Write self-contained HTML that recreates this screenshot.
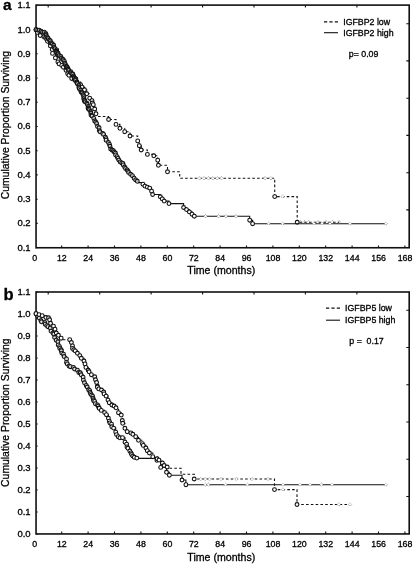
<!DOCTYPE html>
<html><head><meta charset="utf-8"><title>Kaplan-Meier</title>
<style>
html,body{margin:0;padding:0;background:#fff;}
body{width:413px;height:565px;overflow:hidden;}
svg{display:block;opacity:0.999;will-change:transform;}
svg text{font-family:"Liberation Sans",sans-serif;fill:#000;stroke:#000;stroke-width:0.3px;}
</style></head><body>
<svg width="413" height="565" viewBox="0 0 413 565">
<rect width="413" height="565" fill="#fff"/>
<rect x="36.05" y="5.10" width="373.15" height="242.65" fill="none" stroke="#111" stroke-width="1.6"/><path d="M36.0,5.2 h1.7 M36.0,29.4 h1.7 M36.0,53.7 h1.7 M36.0,78.0 h1.7 M36.0,102.2 h1.7 M36.0,126.5 h1.7 M36.0,150.7 h1.7 M36.0,174.9 h1.7 M36.0,199.2 h1.7 M36.0,223.4 h1.7 M36.0,247.7 h1.7 M61.7,247.8 v-2.4 M88.1,247.8 v-2.4 M114.5,247.8 v-2.4 M140.9,247.8 v-2.4 M167.3,247.8 v-2.4 M193.7,247.8 v-2.4 M220.1,247.8 v-2.4 M246.5,247.8 v-2.4 M272.9,247.8 v-2.4 M299.3,247.8 v-2.4 M325.7,247.8 v-2.4 M352.1,247.8 v-2.4 M378.5,247.8 v-2.4 M404.9,247.8 v-2.4 M48.2,5.1 v2.5 M99.7,5.1 v2.5 M151.1,5.1 v2.5 M202.6,5.1 v2.5 M254.0,5.1 v2.5 M305.4,5.1 v2.5 M356.9,5.1 v2.5 M409.2,209.9 h-2.9 M409.2,172.7 h-2.9 M409.2,135.4 h-2.9 M409.2,98.2 h-2.9 M409.2,60.9 h-2.9 M409.2,23.7 h-2.9 " stroke="#111" stroke-width="1.1" fill="none"/><text x="30.6" y="8.2" text-anchor="end" font-size="9.5">1.1</text><text x="30.6" y="32.5" text-anchor="end" font-size="9.5">1.0</text><text x="30.6" y="56.7" text-anchor="end" font-size="9.5">0.9</text><text x="30.6" y="81.0" text-anchor="end" font-size="9.5">0.8</text><text x="30.6" y="105.2" text-anchor="end" font-size="9.5">0.7</text><text x="30.6" y="129.4" text-anchor="end" font-size="9.5">0.6</text><text x="30.6" y="153.7" text-anchor="end" font-size="9.5">0.5</text><text x="30.6" y="177.9" text-anchor="end" font-size="9.5">0.4</text><text x="30.6" y="202.2" text-anchor="end" font-size="9.5">0.3</text><text x="30.6" y="226.4" text-anchor="end" font-size="9.5">0.2</text><text x="30.6" y="250.7" text-anchor="end" font-size="9.5">0.1</text><text x="34.8" y="260.9" text-anchor="middle" font-size="8.8">0</text><text x="61.8" y="260.9" text-anchor="middle" font-size="8.8">12</text><text x="88.2" y="260.9" text-anchor="middle" font-size="8.8">24</text><text x="114.6" y="260.9" text-anchor="middle" font-size="8.8">36</text><text x="141.0" y="260.9" text-anchor="middle" font-size="8.8">48</text><text x="167.4" y="260.9" text-anchor="middle" font-size="8.8">60</text><text x="193.8" y="260.9" text-anchor="middle" font-size="8.8">72</text><text x="220.2" y="260.9" text-anchor="middle" font-size="8.8">84</text><text x="246.6" y="260.9" text-anchor="middle" font-size="8.8">96</text><text x="273.0" y="260.9" text-anchor="middle" font-size="8.8">108</text><text x="299.4" y="260.9" text-anchor="middle" font-size="8.8">120</text><text x="325.8" y="260.9" text-anchor="middle" font-size="8.8">132</text><text x="352.2" y="260.9" text-anchor="middle" font-size="8.8">144</text><text x="378.6" y="260.9" text-anchor="middle" font-size="8.8">156</text><text x="405.0" y="260.9" text-anchor="middle" font-size="8.8">168</text><text x="221.3" y="273.9" text-anchor="middle" font-size="10.6">Time (months)</text><text transform="translate(8.8,125.1) rotate(-90)" text-anchor="middle" font-size="10.4">Cumulative Proportion Surviving</text>
<rect x="36.05" y="292.00" width="373.15" height="241.95" fill="none" stroke="#111" stroke-width="1.6"/><path d="M36.0,292.0 h1.7 M36.0,314.0 h1.7 M36.0,336.0 h1.7 M36.0,358.0 h1.7 M36.0,380.0 h1.7 M36.0,402.0 h1.7 M36.0,424.0 h1.7 M36.0,446.0 h1.7 M36.0,468.0 h1.7 M36.0,490.0 h1.7 M36.0,512.0 h1.7 M36.0,534.0 h1.7 M61.7,534.0 v-2.4 M88.1,534.0 v-2.4 M114.5,534.0 v-2.4 M140.9,534.0 v-2.4 M167.3,534.0 v-2.4 M193.7,534.0 v-2.4 M220.1,534.0 v-2.4 M246.5,534.0 v-2.4 M272.9,534.0 v-2.4 M299.3,534.0 v-2.4 M325.7,534.0 v-2.4 M352.1,534.0 v-2.4 M378.5,534.0 v-2.4 M404.9,534.0 v-2.4 M48.2,292.0 v2.5 M99.7,292.0 v2.5 M151.1,292.0 v2.5 M202.6,292.0 v2.5 M254.0,292.0 v2.5 M305.4,292.0 v2.5 M356.9,292.0 v2.5 M409.2,496.5 h-2.9 M409.2,459.2 h-2.9 M409.2,422.0 h-2.9 M409.2,384.7 h-2.9 M409.2,347.5 h-2.9 M409.2,310.2 h-2.9 " stroke="#111" stroke-width="1.1" fill="none"/><text x="30.6" y="295.0" text-anchor="end" font-size="9.5">1.1</text><text x="30.6" y="317.0" text-anchor="end" font-size="9.5">1.0</text><text x="30.6" y="339.0" text-anchor="end" font-size="9.5">0.9</text><text x="30.6" y="361.0" text-anchor="end" font-size="9.5">0.8</text><text x="30.6" y="383.0" text-anchor="end" font-size="9.5">0.7</text><text x="30.6" y="405.0" text-anchor="end" font-size="9.5">0.6</text><text x="30.6" y="427.0" text-anchor="end" font-size="9.5">0.5</text><text x="30.6" y="449.0" text-anchor="end" font-size="9.5">0.4</text><text x="30.6" y="471.0" text-anchor="end" font-size="9.5">0.3</text><text x="30.6" y="493.0" text-anchor="end" font-size="9.5">0.2</text><text x="30.6" y="515.0" text-anchor="end" font-size="9.5">0.1</text><text x="30.6" y="537.0" text-anchor="end" font-size="9.5">0.0</text><text x="34.8" y="547.2" text-anchor="middle" font-size="8.8">0</text><text x="61.8" y="547.2" text-anchor="middle" font-size="8.8">12</text><text x="88.2" y="547.2" text-anchor="middle" font-size="8.8">24</text><text x="114.6" y="547.2" text-anchor="middle" font-size="8.8">36</text><text x="141.0" y="547.2" text-anchor="middle" font-size="8.8">48</text><text x="167.4" y="547.2" text-anchor="middle" font-size="8.8">60</text><text x="193.8" y="547.2" text-anchor="middle" font-size="8.8">72</text><text x="220.2" y="547.2" text-anchor="middle" font-size="8.8">84</text><text x="246.6" y="547.2" text-anchor="middle" font-size="8.8">96</text><text x="273.0" y="547.2" text-anchor="middle" font-size="8.8">108</text><text x="299.4" y="547.2" text-anchor="middle" font-size="8.8">120</text><text x="325.8" y="547.2" text-anchor="middle" font-size="8.8">132</text><text x="352.2" y="547.2" text-anchor="middle" font-size="8.8">144</text><text x="378.6" y="547.2" text-anchor="middle" font-size="8.8">156</text><text x="405.0" y="547.2" text-anchor="middle" font-size="8.8">168</text><text x="221.3" y="561.1" text-anchor="middle" font-size="10.6">Time (months)</text><text transform="translate(8.8,412.7) rotate(-90)" text-anchor="middle" font-size="10.4">Cumulative Proportion Surviving</text>
<path d="M36.0,29.7 H37.4 V32.4 H40.2 V35.5 H43.9 V36.8 H45.5 V37.7 H46.6 V39.3 H47.5 V41.3 H50.2 V43.4 H50.4 V45.9 H52.2 V49.6 H52.5 V53.4 H55.4 V57.9 H57.9 V61.9 H59.1 V63.9 H61.7 V65.4 H63.4 V67.2 H66.0 V70.3 H67.7 V73.7 H68.9 V75.3 H71.7 V78.5 H74.4 V79.6 H76.9 V82.0 H80.6 V84.8 H82.0 V87.1 H84.5 V89.8 H86.7 V93.8 H89.7 V98.2 H92.0 V100.6 H92.4 V103.0 H93.3 V104.7 H94.7 V109.0 H96.0 V113.8 H97.0 V116.5 H102.6 V116.5 H108.6 V119.5 H116.0 V124.4 H119.9 V128.3 H124.7 V131.7 H130.0 V136.0 H137.7 V140.9 H139.3 V145.7 H141.2 V150.0 H147.4 V154.4 H153.8 V155.8 H157.7 V160.2 H158.4 V165.3 H167.5 V171.8 H179.7 V178.2 H274.7 V196.6 H297.2 V222.3 H339.3 V222.3" fill="none" stroke="#111" stroke-width="1.1" stroke-dasharray="2.6 2.2"/><g fill="#fff" stroke="#111" stroke-width="1.1"><circle cx="36.0" cy="29.7" r="1.9"/><circle cx="37.4" cy="32.4" r="1.9"/><circle cx="40.2" cy="35.5" r="1.9"/><circle cx="43.9" cy="36.8" r="1.9"/><circle cx="45.5" cy="37.7" r="1.9"/><circle cx="46.6" cy="39.3" r="1.9"/><circle cx="47.5" cy="41.3" r="1.9"/><circle cx="50.2" cy="43.4" r="1.9"/><circle cx="50.4" cy="45.9" r="1.9"/><circle cx="52.2" cy="49.6" r="1.9"/><circle cx="52.5" cy="53.4" r="1.9"/><circle cx="55.4" cy="57.9" r="1.9"/><circle cx="57.9" cy="61.9" r="1.9"/><circle cx="59.1" cy="63.9" r="1.9"/><circle cx="61.7" cy="65.4" r="1.9"/><circle cx="63.4" cy="67.2" r="1.9"/><circle cx="66.0" cy="70.3" r="1.9"/><circle cx="67.7" cy="73.7" r="1.9"/><circle cx="68.9" cy="75.3" r="1.9"/><circle cx="71.7" cy="78.5" r="1.9"/><circle cx="74.4" cy="79.6" r="1.9"/><circle cx="76.9" cy="82.0" r="1.9"/><circle cx="80.6" cy="84.8" r="1.9"/><circle cx="82.0" cy="87.1" r="1.9"/><circle cx="84.5" cy="89.8" r="1.9"/><circle cx="86.7" cy="93.8" r="1.9"/><circle cx="89.7" cy="98.2" r="1.9"/><circle cx="92.0" cy="100.6" r="1.9"/><circle cx="92.4" cy="103.0" r="1.9"/><circle cx="93.3" cy="104.7" r="1.9"/><circle cx="94.7" cy="109.0" r="1.9"/><circle cx="96.0" cy="113.8" r="1.9"/></g><g fill="#fff" stroke="#111" stroke-width="1.1"><circle cx="108.6" cy="119.5" r="1.9"/><circle cx="116.0" cy="124.4" r="1.9"/><circle cx="119.9" cy="128.3" r="1.9"/><circle cx="124.7" cy="131.7" r="1.9"/><circle cx="130.0" cy="136.0" r="1.9"/><circle cx="137.7" cy="140.9" r="1.9"/><circle cx="139.3" cy="145.7" r="1.9"/><circle cx="141.2" cy="150.0" r="1.9"/><circle cx="147.4" cy="154.4" r="1.9"/><circle cx="153.8" cy="155.8" r="1.9"/><circle cx="157.7" cy="160.2" r="1.9"/><circle cx="158.4" cy="165.3" r="1.9"/><circle cx="167.5" cy="171.8" r="1.9"/></g><g fill="#fff" stroke="#111" stroke-width="1.1"><circle cx="274.7" cy="196.6" r="1.9"/><circle cx="297.2" cy="222.3" r="1.9"/></g>
<path d="M36.0,29.7 H37.6 V30.1 H39.1 V30.2 H41.0 V31.2 H42.6 V32.1 H44.3 V32.2 H45.9 V33.8 H46.1 V35.1 H46.8 V36.8 H47.8 V37.9 H48.3 V38.7 H49.5 V40.2 H50.4 V40.9 H51.0 V42.9 H52.3 V43.8 H53.7 V45.3 H54.1 V47.5 H54.9 V48.6 H56.7 V49.9 H56.3 V51.3 H56.9 V52.3 H58.1 V53.3 H58.0 V54.7 H59.2 V55.6 H60.8 V56.4 H61.4 V58.2 H62.6 V59.4 H63.3 V59.8 H64.4 V61.4 H65.0 V63.4 H65.4 V64.7 H66.2 V66.2 H66.8 V66.8 H67.5 V67.6 H67.5 V68.6 H68.2 V69.3 H68.8 V70.4 H70.7 V71.7 H70.8 V72.8 H71.7 V73.7 H72.8 V74.0 H73.7 V76.2 H74.1 V77.5 H74.8 V78.2 H75.9 V79.0 H75.2 V80.4 H76.7 V82.1 H77.1 V83.0 H77.4 V83.7 H78.8 V85.5 H78.9 V87.5 H79.3 V88.7 H80.6 V90.2 H81.1 V92.1 H82.1 V92.8 H83.0 V94.8 H83.8 V96.7 H83.7 V98.7 H84.5 V100.0 H84.4 V100.9 H85.2 V101.9 H86.8 V103.1 H87.4 V104.4 H88.4 V106.4 H88.0 V108.0 H88.5 V109.0 H89.4 V109.7 H90.6 V111.5 H90.9 V113.0 H91.0 V115.1 H92.0 V116.0 H92.0 V116.0 H93.8 V118.4 H94.7 V120.9 H95.7 V122.0 H96.6 V123.5 H97.5 V126.5 H99.1 V127.8 H99.3 V130.6 H100.0 V131.8 H102.7 V133.4 H103.6 V134.4 H105.3 V137.1 H106.1 V138.7 H106.1 V140.2 H108.4 V142.5 H109.5 V144.4 H110.0 V146.3 H110.7 V149.0 H112.0 V150.0 H113.4 V150.8 H114.2 V152.1 H115.4 V153.0 H115.6 V154.9 H117.1 V156.7 H118.0 V158.4 H118.9 V160.1 H120.2 V161.9 H121.7 V162.9 H122.9 V163.4 H123.2 V164.9 H124.6 V167.0 H125.5 V168.5 H127.2 V169.9 H127.9 V171.1 H128.6 V172.5 H130.6 V174.3 H132.4 V175.7 H134.1 V178.2 H135.7 V179.9 H137.3 V181.3 H138.1 V182.6 H142.9 V184.2 H144.9 V186.1 H147.3 V187.1 H149.7 V188.1 H151.6 V191.2 H152.6 V194.5 H160.3 V196.8 H162.3 V198.9 H164.2 V201.1 H169.0 V203.6 H180.7 V203.6 H183.6 V207.5 H186.5 V209.6 H189.4 V211.9 H192.0 V214.2 H194.3 V216.2 H247.8 V216.2 H249.7 V220.2 H252.6 V223.7 H385.9 V223.7" fill="none" stroke="#111" stroke-width="1.1"/><g fill="rgba(255,255,255,0.4)" stroke="#111" stroke-width="1.1"><circle cx="36.0" cy="29.7" r="1.9"/><circle cx="37.6" cy="30.1" r="1.9"/><circle cx="39.1" cy="30.2" r="1.9"/><circle cx="41.0" cy="31.2" r="1.9"/><circle cx="42.6" cy="32.1" r="1.9"/><circle cx="44.3" cy="32.2" r="1.9"/><circle cx="45.9" cy="33.8" r="1.9"/><circle cx="46.1" cy="35.1" r="1.9"/><circle cx="46.8" cy="36.8" r="1.9"/><circle cx="47.8" cy="37.9" r="1.9"/><circle cx="48.3" cy="38.7" r="1.9"/><circle cx="49.5" cy="40.2" r="1.9"/><circle cx="50.4" cy="40.9" r="1.9"/><circle cx="51.0" cy="42.9" r="1.9"/><circle cx="52.3" cy="43.8" r="1.9"/><circle cx="53.7" cy="45.3" r="1.9"/><circle cx="54.1" cy="47.5" r="1.9"/><circle cx="54.9" cy="48.6" r="1.9"/><circle cx="56.7" cy="49.9" r="1.9"/><circle cx="56.3" cy="51.3" r="1.9"/><circle cx="56.9" cy="52.3" r="1.9"/><circle cx="58.1" cy="53.3" r="1.9"/><circle cx="58.0" cy="54.7" r="1.9"/><circle cx="59.2" cy="55.6" r="1.9"/><circle cx="60.8" cy="56.4" r="1.9"/><circle cx="61.4" cy="58.2" r="1.9"/><circle cx="62.6" cy="59.4" r="1.9"/><circle cx="63.3" cy="59.8" r="1.9"/><circle cx="64.4" cy="61.4" r="1.9"/><circle cx="65.0" cy="63.4" r="1.9"/><circle cx="65.4" cy="64.7" r="1.9"/><circle cx="66.2" cy="66.2" r="1.9"/><circle cx="66.8" cy="66.8" r="1.9"/><circle cx="67.5" cy="67.6" r="1.9"/><circle cx="67.5" cy="68.6" r="1.9"/><circle cx="68.2" cy="69.3" r="1.9"/><circle cx="68.8" cy="70.4" r="1.9"/><circle cx="70.7" cy="71.7" r="1.9"/><circle cx="70.8" cy="72.8" r="1.9"/><circle cx="71.7" cy="73.7" r="1.9"/><circle cx="72.8" cy="74.0" r="1.9"/><circle cx="73.7" cy="76.2" r="1.9"/><circle cx="74.1" cy="77.5" r="1.9"/><circle cx="74.8" cy="78.2" r="1.9"/><circle cx="75.9" cy="79.0" r="1.9"/><circle cx="75.2" cy="80.4" r="1.9"/><circle cx="76.7" cy="82.1" r="1.9"/><circle cx="77.1" cy="83.0" r="1.9"/><circle cx="77.4" cy="83.7" r="1.9"/><circle cx="78.8" cy="85.5" r="1.9"/><circle cx="78.9" cy="87.5" r="1.9"/><circle cx="79.3" cy="88.7" r="1.9"/><circle cx="80.6" cy="90.2" r="1.9"/><circle cx="81.1" cy="92.1" r="1.9"/><circle cx="82.1" cy="92.8" r="1.9"/><circle cx="83.0" cy="94.8" r="1.9"/><circle cx="83.8" cy="96.7" r="1.9"/><circle cx="83.7" cy="98.7" r="1.9"/><circle cx="84.5" cy="100.0" r="1.9"/><circle cx="84.4" cy="100.9" r="1.9"/><circle cx="85.2" cy="101.9" r="1.9"/><circle cx="86.8" cy="103.1" r="1.9"/><circle cx="87.4" cy="104.4" r="1.9"/><circle cx="88.4" cy="106.4" r="1.9"/><circle cx="88.0" cy="108.0" r="1.9"/><circle cx="88.5" cy="109.0" r="1.9"/><circle cx="89.4" cy="109.7" r="1.9"/><circle cx="90.6" cy="111.5" r="1.9"/><circle cx="90.9" cy="113.0" r="1.9"/><circle cx="91.0" cy="115.1" r="1.9"/></g><g fill="rgba(255,255,255,0.7)" stroke="#111" stroke-width="1.1"><circle cx="92.0" cy="116.0" r="1.9"/><circle cx="93.8" cy="118.4" r="1.9"/><circle cx="94.7" cy="120.9" r="1.9"/><circle cx="95.7" cy="122.0" r="1.9"/><circle cx="96.6" cy="123.5" r="1.9"/><circle cx="97.5" cy="126.5" r="1.9"/><circle cx="99.1" cy="127.8" r="1.9"/><circle cx="99.3" cy="130.6" r="1.9"/><circle cx="100.0" cy="131.8" r="1.9"/><circle cx="102.7" cy="133.4" r="1.9"/><circle cx="103.6" cy="134.4" r="1.9"/><circle cx="105.3" cy="137.1" r="1.9"/><circle cx="106.1" cy="138.7" r="1.9"/><circle cx="106.1" cy="140.2" r="1.9"/><circle cx="108.4" cy="142.5" r="1.9"/><circle cx="109.5" cy="144.4" r="1.9"/><circle cx="110.0" cy="146.3" r="1.9"/><circle cx="110.7" cy="149.0" r="1.9"/><circle cx="112.0" cy="150.0" r="1.9"/><circle cx="113.4" cy="150.8" r="1.9"/><circle cx="114.2" cy="152.1" r="1.9"/><circle cx="115.4" cy="153.0" r="1.9"/><circle cx="115.6" cy="154.9" r="1.9"/><circle cx="117.1" cy="156.7" r="1.9"/><circle cx="118.0" cy="158.4" r="1.9"/><circle cx="118.9" cy="160.1" r="1.9"/><circle cx="120.2" cy="161.9" r="1.9"/><circle cx="121.7" cy="162.9" r="1.9"/><circle cx="122.9" cy="163.4" r="1.9"/><circle cx="123.2" cy="164.9" r="1.9"/><circle cx="124.6" cy="167.0" r="1.9"/><circle cx="125.5" cy="168.5" r="1.9"/><circle cx="127.2" cy="169.9" r="1.9"/><circle cx="127.9" cy="171.1" r="1.9"/><circle cx="128.6" cy="172.5" r="1.9"/><circle cx="130.6" cy="174.3" r="1.9"/><circle cx="132.4" cy="175.7" r="1.9"/><circle cx="134.1" cy="178.2" r="1.9"/><circle cx="135.7" cy="179.9" r="1.9"/><circle cx="137.3" cy="181.3" r="1.9"/></g><g fill="#fff" stroke="#111" stroke-width="1.1"><circle cx="142.9" cy="184.2" r="1.9"/><circle cx="144.9" cy="186.1" r="1.9"/><circle cx="147.3" cy="187.1" r="1.9"/><circle cx="149.7" cy="188.1" r="1.9"/><circle cx="151.6" cy="191.2" r="1.9"/><circle cx="152.6" cy="194.5" r="1.9"/><circle cx="160.3" cy="196.8" r="1.9"/><circle cx="162.3" cy="198.9" r="1.9"/><circle cx="164.2" cy="201.1" r="1.9"/><circle cx="169.0" cy="203.6" r="1.9"/></g><g fill="#fff" stroke="#111" stroke-width="1.1"><circle cx="183.6" cy="207.5" r="1.9"/><circle cx="186.5" cy="209.6" r="1.9"/><circle cx="189.4" cy="211.9" r="1.9"/><circle cx="192.0" cy="214.2" r="1.9"/><circle cx="194.3" cy="216.2" r="1.9"/><circle cx="249.7" cy="220.2" r="1.9"/><circle cx="252.6" cy="223.7" r="1.9"/></g>
<path d="M36.0,313.7 H37.3 V315.6 H39.3 V318.1 H40.9 V320.7 H41.5 V321.8 H44.8 V322.5 H45.2 V324.2 H46.7 V325.6 H48.0 V326.7 H50.3 V328.0 H51.0 V331.1 H52.9 V333.1 H53.8 V334.2 H54.6 V337.5 H56.2 V340.2 H57.9 V341.8 H58.2 V344.9 H59.5 V346.6 H59.8 V348.4 H61.2 V349.8 H61.4 V350.9 H61.8 V353.1 H63.5 V354.2 H64.1 V356.5 H66.5 V358.9 H66.5 V362.4 H67.3 V363.9 H69.0 V366.1 H70.4 V366.7 H73.4 V367.4 H74.6 V369.0 H77.4 V370.2 H78.8 V372.5 H80.3 V372.8 H81.1 V374.8 H83.1 V377.1 H83.4 V380.1 H84.5 V382.8 H86.2 V385.4 H87.2 V387.0 H88.6 V389.8 H89.7 V390.7 H90.1 V392.4 H90.6 V393.7 H91.5 V395.0 H92.7 V396.4 H93.0 V398.1 H93.4 V399.6 H93.7 V400.7 H94.7 V401.4 H95.4 V403.7 H97.5 V404.9 H98.2 V406.1 H99.0 V408.0 H99.2 V408.3 H99.2 V408.3 H101.3 V410.4 H104.6 V412.6 H106.4 V414.7 H108.4 V418.3 H109.3 V421.2 H109.9 V422.9 H111.5 V424.2 H111.8 V426.8 H113.6 V428.1 H115.7 V432.1 H116.5 V434.6 H118.2 V436.7 H119.9 V437.8 H122.5 V437.7 H125.0 V442.2 H126.6 V444.1 H127.0 V446.9 H127.9 V448.3 H129.8 V451.0 H131.0 V452.9 H131.6 V454.5 H132.8 V456.1 H134.3 V457.3 H136.8 V458.1 H138.3 V458.4 H150.3 V458.4 H156.9 V460.3 H160.7 V467.4 H166.5 V472.3 H169.4 V475.2 H180.0 V475.2 H182.0 V480.0 H185.9 V484.7 H385.9 V484.7" fill="none" stroke="#111" stroke-width="1.1"/><g fill="rgba(255,255,255,0.8)" stroke="#111" stroke-width="1.1"><circle cx="36.0" cy="313.7" r="1.9"/><circle cx="37.3" cy="315.6" r="1.9"/><circle cx="39.3" cy="318.1" r="1.9"/><circle cx="40.9" cy="320.7" r="1.9"/><circle cx="41.5" cy="321.8" r="1.9"/><circle cx="44.8" cy="322.5" r="1.9"/><circle cx="45.2" cy="324.2" r="1.9"/><circle cx="46.7" cy="325.6" r="1.9"/><circle cx="48.0" cy="326.7" r="1.9"/><circle cx="50.3" cy="328.0" r="1.9"/><circle cx="51.0" cy="331.1" r="1.9"/><circle cx="52.9" cy="333.1" r="1.9"/><circle cx="53.8" cy="334.2" r="1.9"/><circle cx="54.6" cy="337.5" r="1.9"/><circle cx="56.2" cy="340.2" r="1.9"/><circle cx="57.9" cy="341.8" r="1.9"/><circle cx="58.2" cy="344.9" r="1.9"/><circle cx="59.5" cy="346.6" r="1.9"/><circle cx="59.8" cy="348.4" r="1.9"/><circle cx="61.2" cy="349.8" r="1.9"/><circle cx="61.4" cy="350.9" r="1.9"/><circle cx="61.8" cy="353.1" r="1.9"/><circle cx="63.5" cy="354.2" r="1.9"/><circle cx="64.1" cy="356.5" r="1.9"/><circle cx="66.5" cy="358.9" r="1.9"/><circle cx="66.5" cy="362.4" r="1.9"/><circle cx="67.3" cy="363.9" r="1.9"/><circle cx="69.0" cy="366.1" r="1.9"/><circle cx="70.4" cy="366.7" r="1.9"/><circle cx="73.4" cy="367.4" r="1.9"/><circle cx="74.6" cy="369.0" r="1.9"/><circle cx="77.4" cy="370.2" r="1.9"/><circle cx="78.8" cy="372.5" r="1.9"/><circle cx="80.3" cy="372.8" r="1.9"/><circle cx="81.1" cy="374.8" r="1.9"/><circle cx="83.1" cy="377.1" r="1.9"/><circle cx="83.4" cy="380.1" r="1.9"/><circle cx="84.5" cy="382.8" r="1.9"/><circle cx="86.2" cy="385.4" r="1.9"/><circle cx="87.2" cy="387.0" r="1.9"/><circle cx="88.6" cy="389.8" r="1.9"/><circle cx="89.7" cy="390.7" r="1.9"/><circle cx="90.1" cy="392.4" r="1.9"/><circle cx="90.6" cy="393.7" r="1.9"/><circle cx="91.5" cy="395.0" r="1.9"/><circle cx="92.7" cy="396.4" r="1.9"/><circle cx="93.0" cy="398.1" r="1.9"/><circle cx="93.4" cy="399.6" r="1.9"/><circle cx="93.7" cy="400.7" r="1.9"/><circle cx="94.7" cy="401.4" r="1.9"/><circle cx="95.4" cy="403.7" r="1.9"/><circle cx="97.5" cy="404.9" r="1.9"/><circle cx="98.2" cy="406.1" r="1.9"/><circle cx="99.0" cy="408.0" r="1.9"/></g><g fill="#fff" stroke="#111" stroke-width="1.1"><circle cx="99.2" cy="408.3" r="1.9"/><circle cx="101.3" cy="410.4" r="1.9"/><circle cx="104.6" cy="412.6" r="1.9"/><circle cx="106.4" cy="414.7" r="1.9"/><circle cx="108.4" cy="418.3" r="1.9"/><circle cx="109.3" cy="421.2" r="1.9"/><circle cx="109.9" cy="422.9" r="1.9"/><circle cx="111.5" cy="424.2" r="1.9"/><circle cx="111.8" cy="426.8" r="1.9"/><circle cx="113.6" cy="428.1" r="1.9"/><circle cx="115.7" cy="432.1" r="1.9"/><circle cx="116.5" cy="434.6" r="1.9"/><circle cx="118.2" cy="436.7" r="1.9"/><circle cx="119.9" cy="437.8" r="1.9"/><circle cx="122.5" cy="437.7" r="1.9"/><circle cx="125.0" cy="442.2" r="1.9"/><circle cx="126.6" cy="444.1" r="1.9"/><circle cx="127.0" cy="446.9" r="1.9"/><circle cx="127.9" cy="448.3" r="1.9"/><circle cx="129.8" cy="451.0" r="1.9"/><circle cx="131.0" cy="452.9" r="1.9"/><circle cx="131.6" cy="454.5" r="1.9"/><circle cx="132.8" cy="456.1" r="1.9"/><circle cx="134.3" cy="457.3" r="1.9"/><circle cx="136.8" cy="458.1" r="1.9"/></g><g fill="#fff" stroke="#111" stroke-width="1.1"><circle cx="156.9" cy="460.3" r="1.9"/><circle cx="160.7" cy="467.4" r="1.9"/><circle cx="166.5" cy="472.3" r="1.9"/><circle cx="169.4" cy="475.2" r="1.9"/><circle cx="182.0" cy="480.0" r="1.9"/><circle cx="185.9" cy="484.7" r="1.9"/></g>
<path d="M36.0,313.7 H39.0 V314.6 H42.2 V315.7 H45.9 V317.5 H48.5 V317.8 H49.6 V319.8 H50.5 V323.3 H53.5 V326.2 H55.0 V329.2 H56.3 V333.0 H58.4 V335.3 H61.2 V338.2 H62.0 V339.7 H69.7 V339.7 H71.4 V342.5 H72.5 V345.9 H72.5 V348.4 H73.8 V349.8 H75.3 V350.9 H77.4 V353.3 H79.8 V355.6 H81.3 V358.3 H84.0 V361.0 H85.0 V363.9 H85.9 V367.4 H88.2 V370.3 H89.1 V371.8 H91.4 V374.7 H94.7 V376.8 H95.5 V379.8 H96.6 V382.5 H97.4 V386.3 H97.4 V387.2 H97.4 V387.2 H98.8 V388.9 H101.5 V390.0 H103.7 V392.0 H104.1 V393.9 H106.1 V396.1 H108.0 V400.1 H109.2 V402.7 H111.9 V405.0 H114.1 V406.0 H116.0 V407.8 H118.5 V412.7 H121.3 V415.1 H122.3 V420.5 H122.7 V423.3 H124.9 V428.3 H127.2 V431.7 H130.9 V432.9 H132.8 V434.3 H135.7 V436.7 H138.5 V440.3 H142.4 V443.7 H143.3 V445.4 H145.9 V448.0 H147.3 V450.7 H149.4 V453.0 H152.8 V456.7 H157.1 V458.8 H159.0 V460.1 H162.4 V463.0 H164.2 V465.5 H167.2 V467.0 H167.5 V468.2 H181.0 V474.2 H194.2 V479.0 H274.5 V489.6 H297.0 V504.5 H350.0 V504.5" fill="none" stroke="#111" stroke-width="1.1" stroke-dasharray="2.6 2.2"/><g fill="#fff" stroke="#111" stroke-width="1.1"><circle cx="36.0" cy="313.7" r="1.9"/><circle cx="39.0" cy="314.6" r="1.9"/><circle cx="42.2" cy="315.7" r="1.9"/><circle cx="45.9" cy="317.5" r="1.9"/><circle cx="48.5" cy="317.8" r="1.9"/><circle cx="49.6" cy="319.8" r="1.9"/><circle cx="50.5" cy="323.3" r="1.9"/><circle cx="53.5" cy="326.2" r="1.9"/><circle cx="55.0" cy="329.2" r="1.9"/><circle cx="56.3" cy="333.0" r="1.9"/><circle cx="58.4" cy="335.3" r="1.9"/><circle cx="61.2" cy="338.2" r="1.9"/></g><g fill="#fff" stroke="#111" stroke-width="1.1"><circle cx="69.7" cy="339.7" r="1.9"/><circle cx="71.4" cy="342.5" r="1.9"/><circle cx="72.5" cy="345.9" r="1.9"/><circle cx="72.5" cy="348.4" r="1.9"/><circle cx="73.8" cy="349.8" r="1.9"/><circle cx="75.3" cy="350.9" r="1.9"/><circle cx="77.4" cy="353.3" r="1.9"/><circle cx="79.8" cy="355.6" r="1.9"/><circle cx="81.3" cy="358.3" r="1.9"/><circle cx="84.0" cy="361.0" r="1.9"/><circle cx="85.0" cy="363.9" r="1.9"/><circle cx="85.9" cy="367.4" r="1.9"/><circle cx="88.2" cy="370.3" r="1.9"/><circle cx="89.1" cy="371.8" r="1.9"/><circle cx="91.4" cy="374.7" r="1.9"/><circle cx="94.7" cy="376.8" r="1.9"/><circle cx="95.5" cy="379.8" r="1.9"/><circle cx="96.6" cy="382.5" r="1.9"/><circle cx="97.4" cy="386.3" r="1.9"/></g><g fill="#fff" stroke="#111" stroke-width="1.1"><circle cx="97.4" cy="387.2" r="1.9"/><circle cx="98.8" cy="388.9" r="1.9"/><circle cx="101.5" cy="390.0" r="1.9"/><circle cx="103.7" cy="392.0" r="1.9"/><circle cx="104.1" cy="393.9" r="1.9"/><circle cx="106.1" cy="396.1" r="1.9"/><circle cx="108.0" cy="400.1" r="1.9"/><circle cx="109.2" cy="402.7" r="1.9"/><circle cx="111.9" cy="405.0" r="1.9"/><circle cx="114.1" cy="406.0" r="1.9"/><circle cx="116.0" cy="407.8" r="1.9"/><circle cx="118.5" cy="412.7" r="1.9"/><circle cx="121.3" cy="415.1" r="1.9"/><circle cx="122.3" cy="420.5" r="1.9"/><circle cx="122.7" cy="423.3" r="1.9"/><circle cx="124.9" cy="428.3" r="1.9"/><circle cx="127.2" cy="431.7" r="1.9"/><circle cx="130.9" cy="432.9" r="1.9"/><circle cx="132.8" cy="434.3" r="1.9"/><circle cx="135.7" cy="436.7" r="1.9"/><circle cx="138.5" cy="440.3" r="1.9"/><circle cx="142.4" cy="443.7" r="1.9"/><circle cx="143.3" cy="445.4" r="1.9"/><circle cx="145.9" cy="448.0" r="1.9"/><circle cx="147.3" cy="450.7" r="1.9"/><circle cx="149.4" cy="453.0" r="1.9"/><circle cx="152.8" cy="456.7" r="1.9"/><circle cx="157.1" cy="458.8" r="1.9"/><circle cx="159.0" cy="460.1" r="1.9"/><circle cx="162.4" cy="463.0" r="1.9"/><circle cx="164.2" cy="465.5" r="1.9"/><circle cx="167.2" cy="467.0" r="1.9"/></g><g fill="#fff" stroke="#111" stroke-width="1.1"><circle cx="194.2" cy="479.0" r="1.9"/><circle cx="274.5" cy="489.6" r="1.9"/><circle cx="297.0" cy="504.5" r="1.9"/></g>
<path d="M203.8,216.2 l1.7,-1.7 l1.7,1.7 l-1.7,1.7 Z M216.9,216.2 l1.7,-1.7 l1.7,1.7 l-1.7,1.7 Z M224.2,216.2 l1.7,-1.7 l1.7,1.7 l-1.7,1.7 Z M234.3,216.2 l1.7,-1.7 l1.7,1.7 l-1.7,1.7 Z M266.9,223.7 l1.7,-1.7 l1.7,1.7 l-1.7,1.7 Z M280.9,223.7 l1.7,-1.7 l1.7,1.7 l-1.7,1.7 Z M312.3,223.7 l1.7,-1.7 l1.7,1.7 l-1.7,1.7 Z M320.3,223.7 l1.7,-1.7 l1.7,1.7 l-1.7,1.7 Z M328.3,223.7 l1.7,-1.7 l1.7,1.7 l-1.7,1.7 Z M348.2,223.7 l1.7,-1.7 l1.7,1.7 l-1.7,1.7 Z M384.2,223.7 l1.7,-1.7 l1.7,1.7 l-1.7,1.7 Z " stroke="#6e6e6e" stroke-width="0.8" stroke-dasharray="1 0.9" fill="#fff"/>
<path d="M198.0,178.2 l1.7,-1.7 l1.7,1.7 l-1.7,1.7 Z M202.3,178.2 l1.7,-1.7 l1.7,1.7 l-1.7,1.7 Z M206.7,178.2 l1.7,-1.7 l1.7,1.7 l-1.7,1.7 Z M211.1,178.2 l1.7,-1.7 l1.7,1.7 l-1.7,1.7 Z M215.5,178.2 l1.7,-1.7 l1.7,1.7 l-1.7,1.7 Z M219.8,178.2 l1.7,-1.7 l1.7,1.7 l-1.7,1.7 Z M263.4,178.2 l1.7,-1.7 l1.7,1.7 l-1.7,1.7 Z M269.2,178.2 l1.7,-1.7 l1.7,1.7 l-1.7,1.7 Z M280.9,196.6 l1.7,-1.7 l1.7,1.7 l-1.7,1.7 Z " stroke="#6e6e6e" stroke-width="0.8" stroke-dasharray="1 0.9" fill="#fff"/>
<path d="M299.0,222.3 l1.7,-1.7 l1.7,1.7 l-1.7,1.7 Z M302.9,222.3 l1.7,-1.7 l1.7,1.7 l-1.7,1.7 Z M306.9,222.3 l1.7,-1.7 l1.7,1.7 l-1.7,1.7 Z M316.3,222.3 l1.7,-1.7 l1.7,1.7 l-1.7,1.7 Z M324.3,222.3 l1.7,-1.7 l1.7,1.7 l-1.7,1.7 Z M330.9,222.3 l1.7,-1.7 l1.7,1.7 l-1.7,1.7 Z M337.6,222.3 l1.7,-1.7 l1.7,1.7 l-1.7,1.7 Z " stroke="#6e6e6e" stroke-width="0.8" stroke-dasharray="1 0.9" fill="none"/>
<path d="M203.5,484.7 l1.7,-1.7 l1.7,1.7 l-1.7,1.7 Z M206.7,484.7 l1.7,-1.7 l1.7,1.7 l-1.7,1.7 Z M223.8,484.7 l1.7,-1.7 l1.7,1.7 l-1.7,1.7 Z M245.6,484.7 l1.7,-1.7 l1.7,1.7 l-1.7,1.7 Z M281.3,484.7 l1.7,-1.7 l1.7,1.7 l-1.7,1.7 Z M298.3,484.7 l1.7,-1.7 l1.7,1.7 l-1.7,1.7 Z M308.3,484.7 l1.7,-1.7 l1.7,1.7 l-1.7,1.7 Z M319.7,484.7 l1.7,-1.7 l1.7,1.7 l-1.7,1.7 Z M330.3,484.7 l1.7,-1.7 l1.7,1.7 l-1.7,1.7 Z M384.2,484.7 l1.7,-1.7 l1.7,1.7 l-1.7,1.7 Z " stroke="#6e6e6e" stroke-width="0.8" stroke-dasharray="1 0.9" fill="#fff"/>
<path d="M199.1,479.0 l1.7,-1.7 l1.7,1.7 l-1.7,1.7 Z M203.5,479.0 l1.7,-1.7 l1.7,1.7 l-1.7,1.7 Z M207.8,479.0 l1.7,-1.7 l1.7,1.7 l-1.7,1.7 Z M219.3,479.0 l1.7,-1.7 l1.7,1.7 l-1.7,1.7 Z M234.7,479.0 l1.7,-1.7 l1.7,1.7 l-1.7,1.7 Z M250.3,479.0 l1.7,-1.7 l1.7,1.7 l-1.7,1.7 Z M266.3,479.0 l1.7,-1.7 l1.7,1.7 l-1.7,1.7 Z M281.3,489.6 l1.7,-1.7 l1.7,1.7 l-1.7,1.7 Z M337.1,504.5 l1.7,-1.7 l1.7,1.7 l-1.7,1.7 Z M348.3,504.5 l1.7,-1.7 l1.7,1.7 l-1.7,1.7 Z " stroke="#6e6e6e" stroke-width="0.8" stroke-dasharray="1 0.9" fill="#fff"/>
<path d="M324.0,21.9 h14" stroke="#111" stroke-width="1.1" stroke-dasharray="3.2 2.2" fill="none"/><path d="M324.0,32.7 h14" stroke="#111" stroke-width="1.1" fill="none"/><text x="343.2" y="24.9" font-size="8.8">IGFBP2 low</text><text x="343.2" y="35.7" font-size="8.8">IGFBP2 high</text><text x="348.8" y="56.5" font-size="8.8">p= 0.09</text>
<path d="M326.0,308.1 h14" stroke="#111" stroke-width="1.1" stroke-dasharray="3.2 2.2" fill="none"/><path d="M326.0,320.2 h14" stroke="#111" stroke-width="1.1" fill="none"/><text x="345.0" y="311.1" font-size="8.8">IGFBP5 low</text><text x="345.0" y="323.2" font-size="8.8">IGFBP5 high</text><text x="349.3" y="343.9" font-size="8.8">p =</text><text x="366.6" y="343.9" font-size="8.8">0.17</text>
<text x="3" y="9.9" font-size="15.5" font-weight="bold">a</text>
<text x="3.6" y="300" font-size="16.5" font-weight="bold">b</text>
</svg>
</body></html>
